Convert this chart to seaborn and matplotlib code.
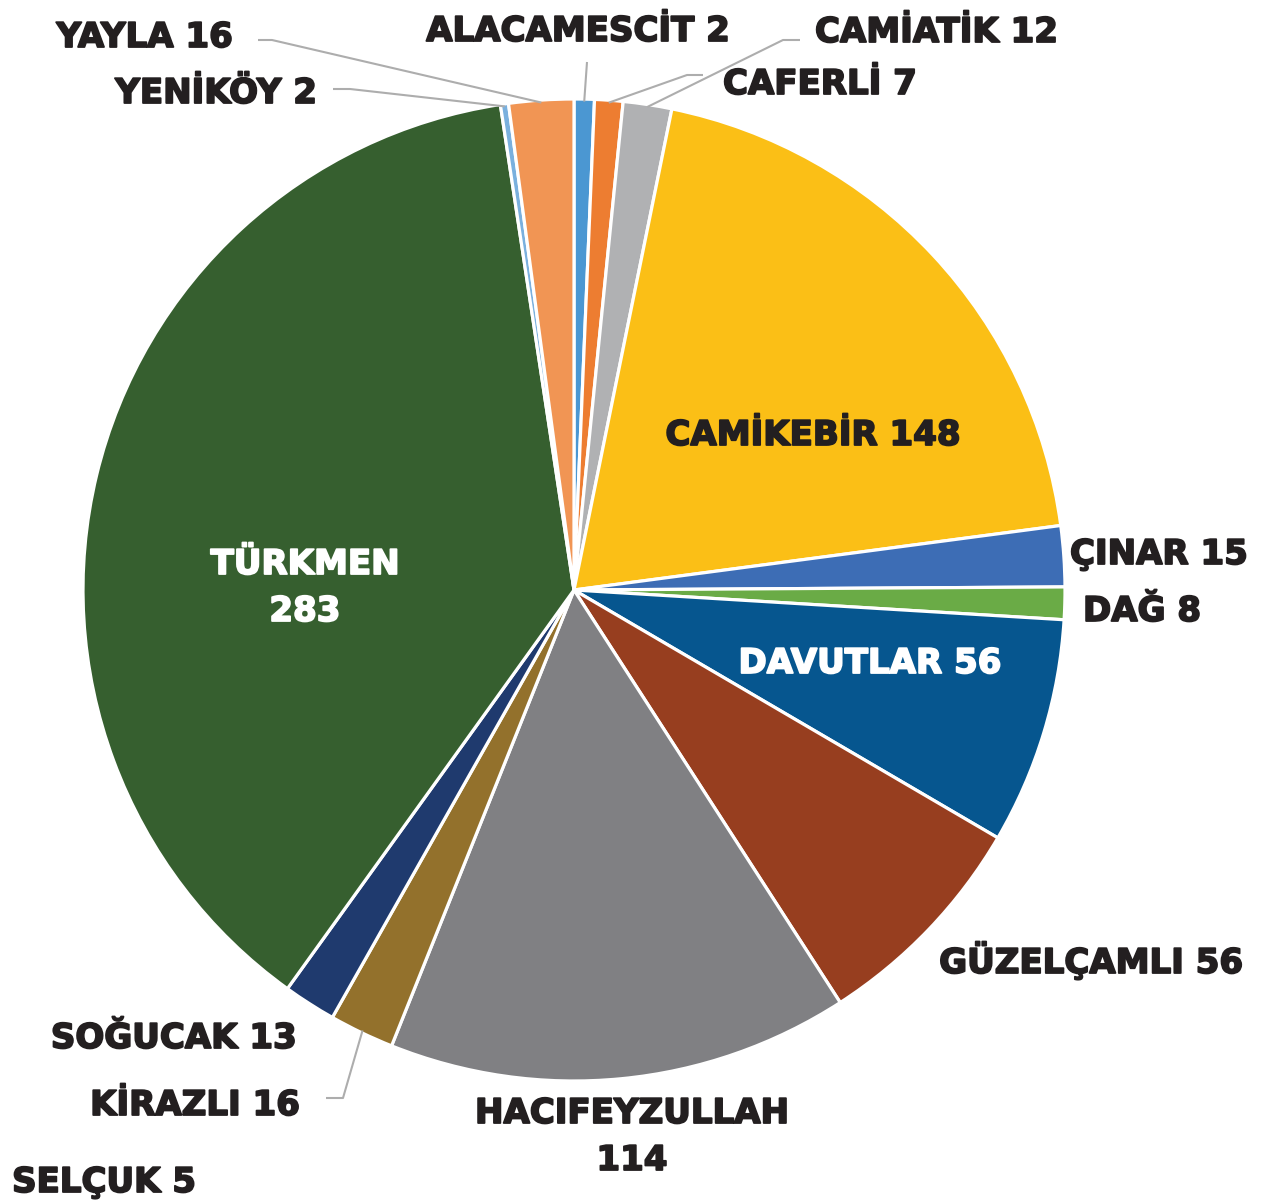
#!/usr/bin/env python3
"""Pie chart of counts per neighbourhood."""

from __future__ import annotations

import matplotlib

matplotlib.use("Agg")

import matplotlib.patheffects as pe
import matplotlib.pyplot as plt
import numpy as np
import seaborn as sns

# slice sizes as drawn, clockwise from 12 o'clock
SLICE_VALUES = [5, 7, 12, 148, 15, 8, 56, 56, 114, 16, 13, 283, 2, 16]
SLICE_COLORS = [
    "#4B97D2", "#ED7D31", "#B0B1B3", "#FBBF16", "#3D6DB5", "#6AAB46", "#06568F",
    "#973E1F", "#808083", "#93712C", "#1F3A6E", "#365F2F", "#7AB0DE", "#F19554",
]
# label text for each slice, as printed on the chart
LABEL_TEXTS = [
    "ALACAMESCİT 2", "CAFERLİ 7", "CAMİATİK 12", "CAMİKEBİR 148", "ÇINAR 15", "DAĞ 8",
    "DAVUTLAR 56", "GÜZELÇAMLI 56", "HACIFEYZULLAH\n114", "KİRAZLI 16", "SOĞUCAK 13",
    "TÜRKMEN\n283", "YENİKÖY 2", "YAYLA 16",
]
EXTRA_LABEL = "SELÇUK 5"

W, H = 1261, 1204
CENTER = (574, 590)
RADIUS = 491
TEXT = "#231F20"
LEADER = "#ADADAD"

# (x, baseline y, ha, colour, leader elbow points) in pixel coordinates, y down
LAYOUT = [
    (578, 41, "center", TEXT, [(587, 62)]),
    (723, 94, "left", TEXT, [(703, 75), (687, 75)]),
    (815, 42, "left", TEXT, [(800, 40), (783, 40)]),
    (813, 445, "center", TEXT, None),
    (1070, 564, "left", TEXT, None),
    (1083, 621, "left", TEXT, None),
    (870, 673, "center", "white", None),
    (1091, 973, "center", TEXT, None),
    (632, 1123, "center", TEXT, None),
    (300, 1115, "right", TEXT, [(326, 1098), (343, 1098)]),
    (297, 1048, "right", TEXT, None),
    (305, 574, "center", "white", None),
    (317, 103, "right", TEXT, [(333, 89), (350, 89)]),
    (233, 47, "right", TEXT, [(258, 40), (272, 40)]),
]
EXTRA_POS = (104, 1192)
LINE_GAP = 47


def to_data(x: float, y: float) -> tuple[float, float]:
    return x, H - y


def label(ax, x, y, text, ha, color):
    t = ax.text(x, y, text, ha=ha, va="baseline", color=color, fontsize=24.5,
                fontweight="bold")
    t.set_path_effects([pe.withStroke(linewidth=1.3, foreground=color)])


def main() -> None:
    sns.set_theme(style="white")
    plt.rcParams["font.family"] = ["DejaVu Sans"]

    fig = plt.figure(figsize=(W / 100, H / 100), dpi=100)
    ax = fig.add_axes([0, 0, 1, 1])

    cx, cy = to_data(*CENTER)
    wedges, _ = ax.pie(
        SLICE_VALUES,
        colors=SLICE_COLORS,
        startangle=90,
        counterclock=False,
        center=(cx, cy),
        radius=RADIUS,
        wedgeprops={"edgecolor": "white", "linewidth": 2.3},
        frame=True,
    )
    ax.set_xlim(0, W)
    ax.set_ylim(0, H)
    ax.set_aspect("equal")
    ax.axis("off")

    for wedge, text, (x, y, ha, color, elbow) in zip(wedges, LABEL_TEXTS, LAYOUT):
        for i, line in enumerate(text.split("\n")):
            tx, ty = to_data(x, y + i * LINE_GAP)
            label(ax, tx, ty, line, ha, color)
        if elbow:
            mid = np.deg2rad((wedge.theta1 + wedge.theta2) / 2)
            end = (cx + RADIUS * 0.995 * np.cos(mid), cy + RADIUS * 0.995 * np.sin(mid))
            pts = [to_data(px, py) for px, py in elbow] + [end]
            xs, ys = zip(*pts)
            ax.plot(xs, ys, color=LEADER, lw=1.5, solid_capstyle="butt")

    ex, ey = to_data(*EXTRA_POS)
    label(ax, ex, ey, EXTRA_LABEL, "center", TEXT)

    fig.savefig("out.png", dpi=100, facecolor="white")
    plt.close(fig)


if __name__ == "__main__":
    main()
